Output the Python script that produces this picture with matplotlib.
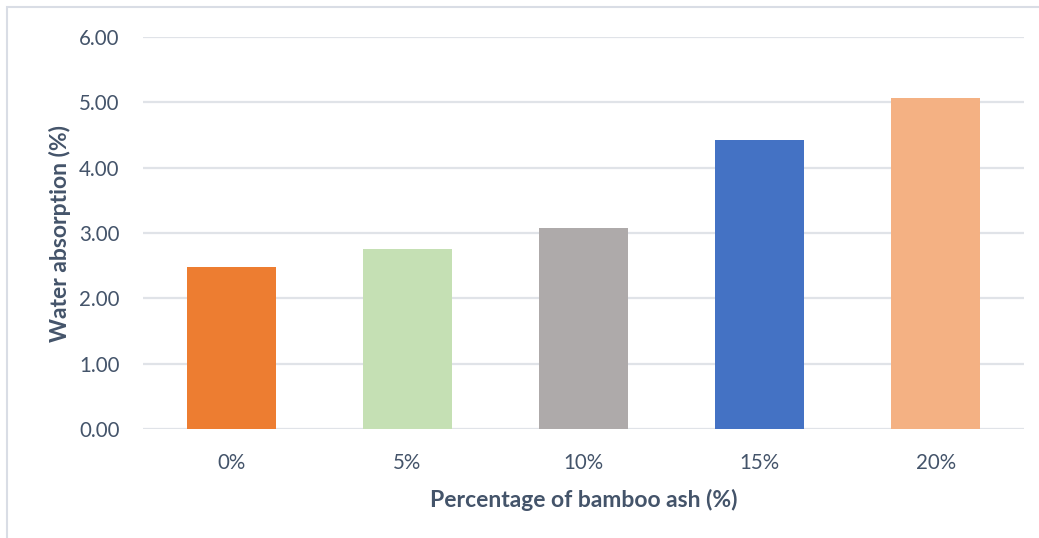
import matplotlib.pyplot as plt
from matplotlib.patches import Rectangle
import numpy as np

categories = ['0%', '5%', '10%', '15%', '20%']
water_absorption = [2.48, 2.75, 3.08, 4.42, 5.07]
bar_colors = ['#ED7D31', '#C5E0B4', '#AEAAAA', '#4472C4', '#F4B183']
y_ticks = [0, 1, 2, 3, 4, 5, 6]

text_color = '#44546A'
grid_color = '#E0E3E8'

plt.rcParams['font.family'] = ['Lato', 'DejaVu Sans']

fig = plt.figure(figsize=(10.39, 5.38), dpi=100)
fig.patch.set_facecolor('white')
ax = fig.add_axes([143 / 1039, 1 - 429 / 538, 881 / 1039, 392 / 538])

x = np.arange(len(categories))
ax.bar(x, water_absorption, width=0.505, color=bar_colors, zorder=3)

ax.set_xlim(-0.5, len(categories) - 0.5)
ax.set_ylim(0, 6)
ax.set_yticks(y_ticks)
ax.set_yticklabels([f'{v:.2f}' for v in y_ticks])
ax.set_xticks(x)
ax.set_xticklabels(categories)

for s in ax.spines.values():
    s.set_visible(False)
ax.grid(axis='y', color=grid_color, linewidth=1.6, zorder=0)
ax.tick_params(axis='both', length=0, colors=text_color, labelsize=14.8)
ax.tick_params(axis='y', pad=17)
ax.tick_params(axis='x', pad=17)

ax.set_ylabel('Water absorption (%)', fontsize=16.5, fontweight='bold',
              color=text_color, labelpad=6)
ax.set_xlabel('Percentage of bamboo ash (%)', fontsize=16.5, fontweight='bold',
              color=text_color, labelpad=12)

# light frame around the chart area
fig.patches.append(Rectangle((7 / 1039, -0.1), 1.2, 1 - 7 / 538 + 0.1,
                             transform=fig.transFigure, fill=False,
                             edgecolor='#D9DDE5', linewidth=1.5))

fig.savefig('out.png', dpi=100)
